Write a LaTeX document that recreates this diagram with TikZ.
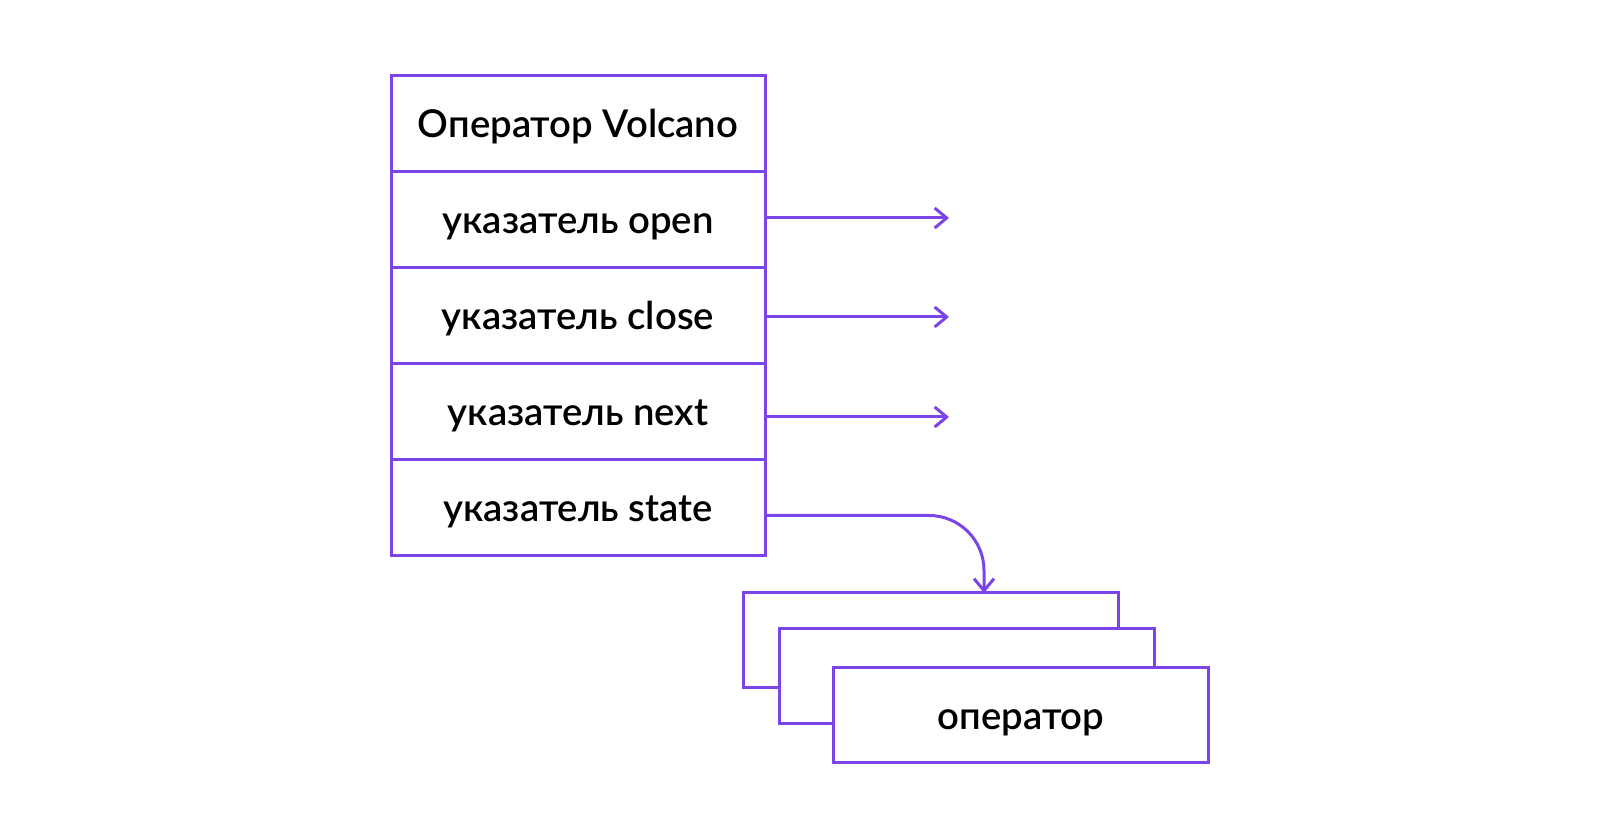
\documentclass[tikz,border=0pt]{standalone}
\usepackage{fontspec}
\setmainfont{Lato Semibold}
\usepackage{tikz}
\usetikzlibrary{positioning,arrows.meta}

\definecolor{violet}{RGB}{122,68,232}

\tikzset{
  cell/.style={rectangle,draw=violet,fill=white,line width=0.06cm,outer sep=0pt,minimum width=7.48cm,minimum height=1.92cm,text height=0.8cm,text depth=0.22cm,font=\fontsize{21.8}{25}\selectfont},
  link/.style={draw=violet,line width=0.06cm,-{Straight Barb[length=2.4mm,width=4mm,line width=0.06cm]}}
}

\begin{document}
\begin{tikzpicture}
                \useasboundingbox (0,0) rectangle (32,16.8);
                \node[cell] (title) at (11.56,14.33){Оператор Volcano};
                \node[cell,below=0pt of title] (open){указатель open};
                \node[cell,below=0pt of open] (close){указатель close};
                \node[cell,below=0pt of close] (next){указатель next};
                \node[cell,below=0pt of next] (state){указатель state};

                \node[cell,minimum width=7.5cm,minimum height=1.9cm] (op1) at (18.61,3.99){};
                \node[cell,minimum width=7.5cm,minimum height=1.9cm] (op2) at (19.34,3.28){};
                \node[cell,minimum width=7.5cm,minimum height=1.9cm] (op3) at (20.42,2.49){оператор};

                \coordinate (openend) at (18.98,12.44);
                \coordinate (closeend) at (18.98,10.46);
                \coordinate (nextend) at (18.98,8.46);

                \draw[link] (open.east |- openend) -- (openend);
                \draw[link] (close.east |- closeend) -- (closeend);
                \draw[link] (next.east |- nextend) -- (nextend);
                \draw[link,rounded corners=1.1cm] ([yshift=-0.16cm]state.east) -| ([xshift=1.07cm]op1.north);
        \end{tikzpicture}
\end{document}
